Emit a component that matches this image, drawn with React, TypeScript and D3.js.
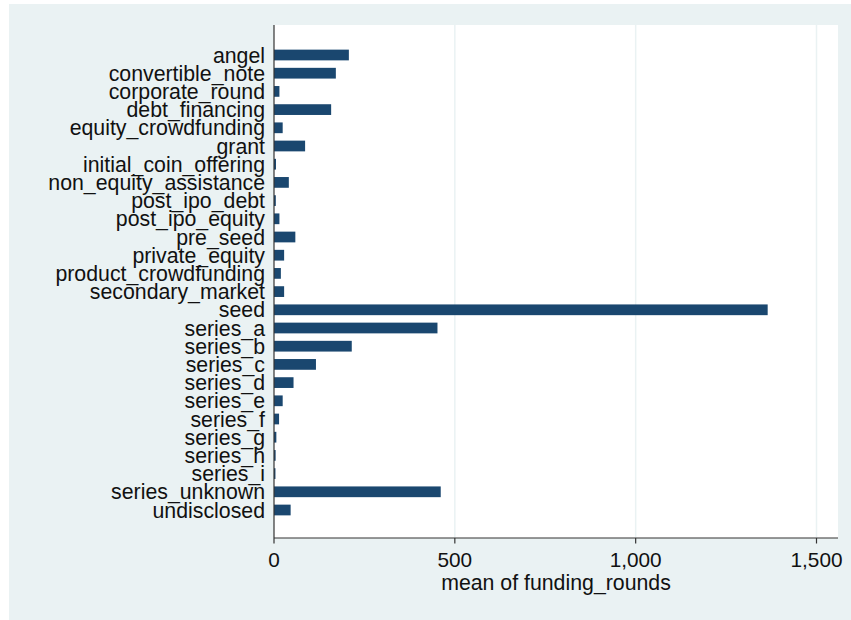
import React from "react";
import * as d3 from "d3";

const categories = [
  "angel", "convertible_note", "corporate_round", "debt_financing", "equity_crowdfunding",
  "grant", "initial_coin_offering", "non_equity_assistance", "post_ipo_debt", "post_ipo_equity",
  "pre_seed", "private_equity", "product_crowdfunding", "secondary_market", "seed",
  "series_a", "series_b", "series_c", "series_d", "series_e", "series_f", "series_g",
  "series_h", "series_i", "series_unknown", "undisclosed",
];
const meanValues = [
  207, 171, 15, 158, 24,
  86, 5.5, 41, 5, 15,
  59, 28, 19, 28, 1365,
  452, 215, 116, 54, 24, 14, 6.5,
  4.5, 4, 461, 46,
];
const xTicks = [0, 500, 1000, 1500];
const xTitle = "mean of funding_rounds";

const W = 851;
const H = 620;
const plotLeft = 274;
const plotRight = 838;
const plotTop = 25;
const plotBottom = 538;
const font = "'Liberation Sans', Arial, sans-serif";

export default function App() {
  const x = d3.scaleLinear().domain([0, 1500]).range([plotLeft, 816.5]);
  const y = d3
    .scaleBand<string>()
    .domain(categories)
    .range([45.9, 519.1])
    .paddingInner(0.41)
    .paddingOuter(0.205);
  const fmt = d3.format(",");

  return (
    <svg
      width={W}
      height={H}
      style={{ position: "absolute", left: 0, top: 0, display: "block" }}
    >
      <rect x={0} y={0} width={W} height={H} fill="#ffffff" />
      <rect x={9} y={4} width={W - 9} height={H - 4} fill="#eaf2f3" />
      <rect
        x={plotLeft}
        y={plotTop}
        width={plotRight - plotLeft}
        height={plotBottom - plotTop}
        fill="#ffffff"
      />
      {xTicks
        .filter((t) => t > 0)
        .map((t) => (
          <line
            key={"g" + t}
            x1={x(t)}
            x2={x(t)}
            y1={plotTop}
            y2={plotBottom}
            stroke="#eaf2f3"
            strokeWidth={1.5}
          />
        ))}
      {categories.map((c, i) => (
        <rect
          key={c}
          x={x(0)}
          y={y(c)!}
          width={Math.max(0, x(meanValues[i]) - x(0))}
          height={y.bandwidth()}
          fill="#1a476f"
        />
      ))}
      <line
        x1={plotLeft}
        x2={plotLeft}
        y1={plotTop}
        y2={plotBottom}
        stroke="#333"
        strokeWidth={1.2}
      />
      <line
        x1={plotLeft}
        x2={plotRight}
        y1={plotBottom}
        y2={plotBottom}
        stroke="#333"
        strokeWidth={1.2}
      />
      {categories.map((c) => (
        <text
          key={"l" + c}
          x={265}
          y={y(c)! + y.bandwidth() / 2}
          dy="0.36em"
          textAnchor="end"
          fontFamily={font}
          fontSize={21.3}
          fill="#111"
        >
          {c}
        </text>
      ))}
      {xTicks.map((t) => (
        <g key={"t" + t}>
          <line
            x1={x(t)}
            x2={x(t)}
            y1={plotBottom}
            y2={plotBottom + 5.5}
            stroke="#333"
            strokeWidth={1.2}
          />
          <text
            x={x(t)}
            y={566.5}
            textAnchor="middle"
            fontFamily={font}
            fontSize={20.8}
            fill="#111"
          >
            {fmt(t)}
          </text>
        </g>
      ))}
      <text
        x={(plotLeft + plotRight) / 2}
        y={590}
        textAnchor="middle"
        fontFamily={font}
        fontSize={21.3}
        fill="#111"
      >
        {xTitle}
      </text>
    </svg>
  );
}
